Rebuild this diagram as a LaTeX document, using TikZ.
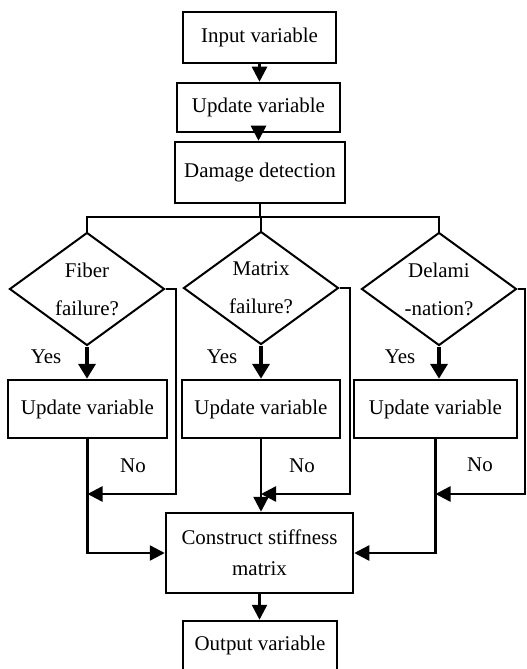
\documentclass[tikz,border=0pt]{standalone}
\usepackage{fontspec}
\setmainfont{Liberation Serif}
\usetikzlibrary{shapes.geometric,arrows.meta}
\begin{document}
\begin{tikzpicture}[x=1bp,y=-1bp,
  box/.style={draw,line width=2.5bp,rectangle,inner sep=0pt,font=\fontsize{21}{31}\selectfont,align=center},
  dia/.style={draw,line width=2bp,diamond,inner sep=0pt,minimum width=155bp,minimum height=113bp},
  dtext/.style={font=\fontsize{21}{38}\selectfont,align=center},
  lbl/.style={font=\fontsize{21}{25}\selectfont,inner sep=0pt},
  ln/.style={line width=2.5bp},
  arr/.style={line width=2.5bp,-{Triangle[length=15bp,width=15bp]}},
  yarr/.style={line width=4bp,-{Triangle[length=15bp,width=17bp]}}]
\useasboundingbox (0,0) rectangle (527,669);
\clip (0,0) rectangle (527,669);
% top boxes
\node[box,minimum width=153bp,minimum height=51bp] (inp) at (259.5,37.5) {Input variable};
\node[box,minimum width=163bp,minimum height=49bp] (upd0) at (258.5,107.5) {Update variable};
\node[box,minimum width=170bp,minimum height=61bp] (dmg) at (260,172.5) {Damage detection};
% diamonds
\node[dia,label={[dtext]center:Fiber\\failure?}] (d1) at (87,289) {};
\node[dia,label={[dtext]center:Matrix\\failure?}] (d2) at (261,288) {};
\node[dia,label={[dtext]center:Delami\\-nation?}] (d3) at (439,289) {};
% lower update boxes
\node[box,minimum width=159bp,minimum height=58bp] (u1) at (87.5,409) {Update variable};
\node[box,minimum width=158bp,minimum height=58bp] (u2) at (261,409) {Update variable};
\node[box,minimum width=163bp,minimum height=58bp] (u3) at (435.5,409) {Update variable};
% construct and output
\node[box,minimum width=187bp,minimum height=80bp] (cs) at (259.5,553) {Construct stiffness\\matrix};
\node[box,minimum width=154bp,minimum height=70bp,text depth=0pt] (out) at (260,656) {\raisebox{0bp}{}};
\node[lbl] (outt) at (260,645) {Output variable};
% labels
\node[lbl] (y1) at (46,357) {Yes};
\node[lbl] (y2) at (222,357) {Yes};
\node[lbl] (y3) at (400,357) {Yes};
\node[lbl] (n1l) at (133,466) {No};
\node[lbl] (n2l) at (302,466) {No};
\node[lbl] (n3l) at (480,465) {No};
% coordinates
\coordinate (bus) at (261,217);
\coordinate (n1) at (176,494);
\coordinate (n2) at (350,494);
\coordinate (n3) at (525,494);
% top arrows
\draw[arr] (inp.south) -- (inp.south |- upd0.north);
\draw[arr] (upd0.south) -- (upd0.south |- dmg.north);
% bus
\draw[ln] (dmg.south) -- (dmg.south |- bus);
\draw[ln] (d1.north) -- (d1.north |- bus) -- (d3.north |- bus) -- (d3.north);
\draw[ln] (d2.north) -- (d2.north |- bus);
% yes arrows
\draw[yarr] (d1.south) -- (d1.south |- u1.north);
\draw[yarr] (d2.south) -- (d2.south |- u2.north);
\draw[yarr] (d3.south) -- (d3.south |- u3.north);
% no arrows
\draw[arr] (d1.east) -- (d1.east -| n1) -- (n1) -- (n1 -| u1.south);
\draw[arr] (d2.east) -- (d2.east -| n2) -- (n2) -- (n2 -| u2.south);
\draw[arr] (d3.east) -- (d3.east -| n3) -- (n3) -- (n3 -| u3.south);
% collectors
\draw[arr] (u1.south) |- (cs.west);
\draw[arr] (u2.south) -- (u2.south |- cs.north);
\draw[arr] (u3.south) |- (cs.east);
\draw[arr] (cs.south) -- (cs.south |- out.north);
\end{tikzpicture}
\end{document}
